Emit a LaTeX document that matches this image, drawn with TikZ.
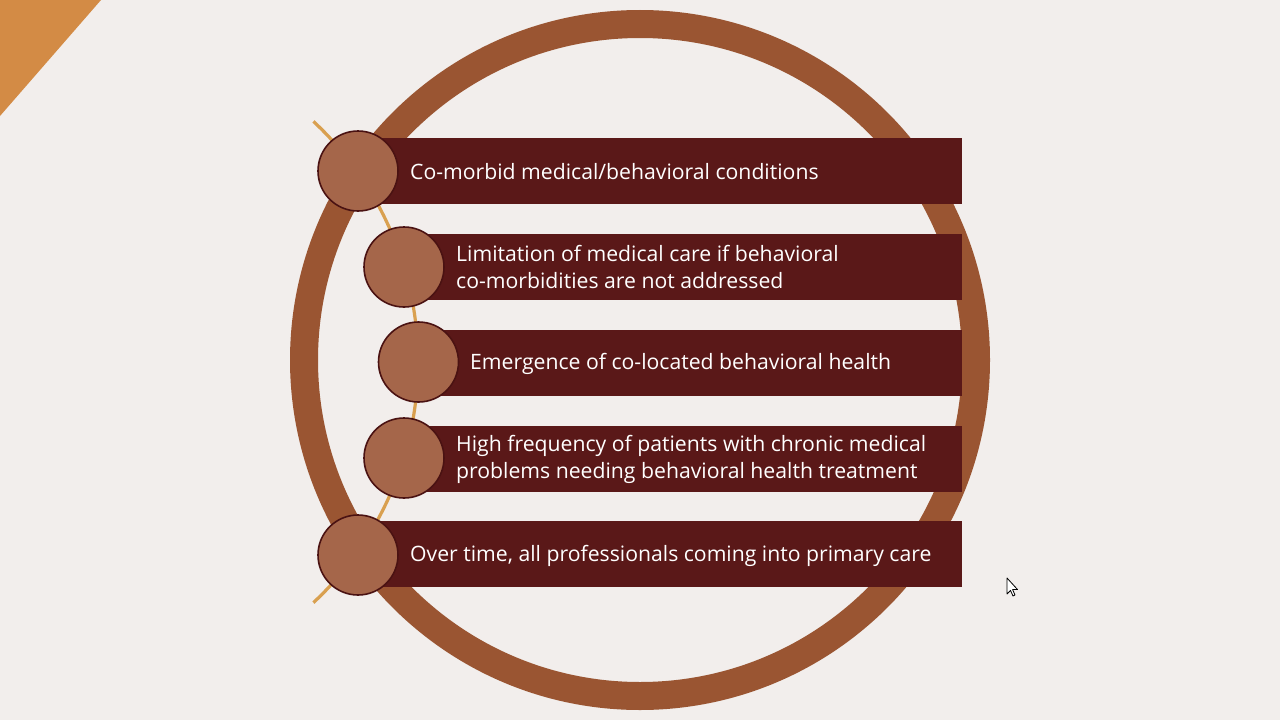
\documentclass[tikz,border=0pt]{standalone}
\usepackage{fontspec}
\setmainfont{Open Sans}
\definecolor{bgc}{HTML}{F2EEEC}
\definecolor{ringc}{HTML}{9A5532}
\definecolor{barc}{HTML}{5A1818}
\definecolor{circc}{HTML}{A5664A}
\definecolor{circl}{HTML}{4A1212}
\definecolor{arcc}{HTML}{D9A050}
\definecolor{tric}{HTML}{D38B45}
\tikzset{
  bar/.style={draw=none, fill=barc, rectangle, anchor=west, minimum height=66pt, inner sep=0pt},
  disc/.style={circle, fill=circc, draw=circl, line width=1.6pt, minimum size=80pt, inner sep=0pt},
  label/.style={anchor=west, text=white, font=\fontsize{21.2}{27}\selectfont, align=left, inner sep=0pt},
  ring/.style={draw=ringc, line width=28pt},
  thinarc/.style={draw=arcc, line width=3.2pt}
}
\begin{document}
\begin{tikzpicture}[x=1pt,y=-1pt]
\useasboundingbox (0,0) rectangle (1280,720);
\fill[bgc] (0,0) rectangle (1280,720);
\fill[tric] (0,0) -- (101,0) -- (0,116) -- cycle;
\draw[ring] (640,360) circle (336pt);
% thin arc
\coordinate (ac) at (89,362);
\coordinate (atop) at (313.4,121.4);
\draw[thinarc] (atop) arc[start angle=47, end angle=-47, radius=329pt] coordinate (abot);
% bars
\node[bar, minimum width=604pt] (b1) at (358,171) {};
\node[bar, minimum width=558pt] (b2) at (404,267) {};
\node[bar, minimum width=544pt] (b3) at (418,363) {};
\node[bar, minimum width=558pt] (b4) at (404,459) {};
\node[bar, minimum width=604pt] (b5) at (358,554) {};
% discs
\node[disc] (c1) at (358,171) {};
\node[disc] (c2) at (404,267) {};
\node[disc] (c3) at (418.5,362) {};
\node[disc] (c4) at (404,458) {};
\node[disc] (c5) at (358,555) {};
% labels
\node[label] (t1) at (410,171.5) {Co-morbid medical/behavioral conditions};
\node[label] (t2) at (456,266.5) {Limitation of medical care if behavioral\\co-morbidities are not addressed};
\node[label] (t3) at (470,364) {Emergence of co-located behavioral health};
\node[label] (t4) at (456,459) {High frequency of patients with chronic medical\\problems needing behavioral health treatment};
\node[label] (t5) at (410,555.5) {Over time, all professionals coming into primary care};
% cursor
\filldraw[fill=white, draw=black, line width=0.8pt, line join=round]
  (1007,578) -- (1007,594) -- (1010.5,590.5) -- (1013,596) -- (1015,595) -- (1012.6,589.6) -- (1017.5,589.5) -- cycle;
\end{tikzpicture}
\end{document}
